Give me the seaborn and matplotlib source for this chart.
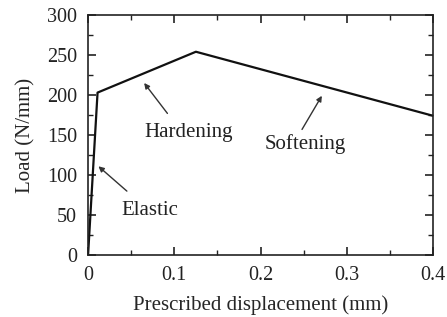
import numpy as np
import pandas as pd
import matplotlib
matplotlib.use("Agg")
import matplotlib.pyplot as plt
from matplotlib.ticker import MultipleLocator
import seaborn as sns

# load-displacement curve (piecewise linear)
displacement = [0.0, 0.011, 0.125, 0.4]
load = [0.0, 203.0, 254.0, 174.0]

# annotations: label, text position, arrow tail, arrow head
labels = ["Elastic", "Hardening", "Softening"]
text_xy = [(0.072, 56), (0.116, 153), (0.252, 139)]
tail_xy = [(0.045, 80), (0.092, 177), (0.248, 157)]
head_xy = [(0.012, 111), (0.065, 215), (0.271, 199)]


def main():
    sns.set_style("ticks")
    plt.rcParams['font.family'] = ['Liberation Serif', 'DejaVu Serif']

    df = pd.DataFrame({'disp': displacement, 'load': load})

    fig, ax = plt.subplots(figsize=(4.47, 3.17), dpi=100)
    sns.lineplot(data=df, x='disp', y='load', ax=ax, color='#111111',
                 linewidth=1.6, sort=False)

    ax.set_xlim(0, 0.4)
    ax.set_ylim(0, 300)
    ax.xaxis.set_minor_locator(MultipleLocator(0.05))
    ax.yaxis.set_major_locator(MultipleLocator(50))
    ax.yaxis.set_minor_locator(MultipleLocator(25))
    ax.set_xticks([0, 0.1, 0.2, 0.3, 0.4])
    ax.set_xticklabels(['0', '0.1', '0.2', '0.3', '0.4'])

    ax.tick_params(which='both', direction='in', top=True, right=True,
                   labelsize=14.5, colors='#222222')
    ax.tick_params(which='major', length=6, width=1.2, pad=8)
    ax.tick_params(which='minor', length=3.5, width=1.0)
    for sp in ax.spines.values():
        sp.set_linewidth(1.2)
        sp.set_color('#222222')

    ax.set_xlabel('Prescribed displacement (mm)', fontsize=15, labelpad=7)
    ax.set_ylabel('Load (N/mm)', fontsize=15, labelpad=8)

    # region labels with arrows
    for lab, txt, tail, head in zip(labels, text_xy, tail_xy, head_xy):
        ax.text(txt[0], txt[1], lab, fontsize=15, ha='center', va='center',
                color='#222222')
        ax.annotate('', xy=head, xytext=tail,
                    arrowprops=dict(arrowstyle='-|>', color='#333333',
                                    lw=1.0, mutation_scale=8,
                                    shrinkA=0, shrinkB=0))

    fig.subplots_adjust(left=0.197, right=0.969, top=0.953, bottom=0.195)
    fig.savefig('out.png', dpi=100)


if __name__ == "__main__":
    main()
